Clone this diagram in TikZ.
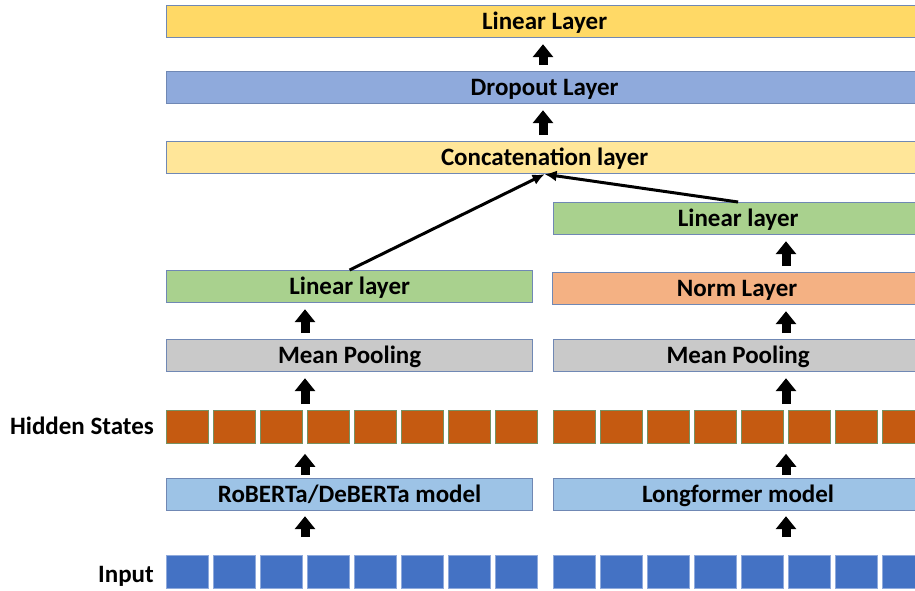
\documentclass[tikz,border=0pt]{standalone}
\usepackage{fontspec}
\setmainfont{Carlito}
\usepackage{tikz}
\usetikzlibrary{arrows.meta,positioning,calc}
\definecolor{lyyellow}{RGB}{255,217,102}
\definecolor{lyblue}{RGB}{143,170,220}
\definecolor{lypale}{RGB}{255,230,153}
\definecolor{lygreen}{RGB}{169,209,142}
\definecolor{lyorange}{RGB}{244,177,131}
\definecolor{lygray}{RGB}{201,201,201}
\definecolor{lymodel}{RGB}{157,195,230}
\definecolor{lyhidden}{RGB}{197,90,17}
\definecolor{lyinput}{RGB}{68,114,196}
\definecolor{lyborder}{RGB}{112,136,180}
\tikzset{
  layer/.style={rectangle, draw=lyborder, line width=1.2pt, anchor=north west, inner sep=0pt, minimum height=32pt, text height=18pt, text depth=2pt, font=\fontsize{25}{28}\selectfont\bfseries},
  fullbox/.style={layer, minimum width=756pt},
  leftbox/.style={layer, minimum width=366pt},
  rightbox/.style={layer, minimum width=369pt},
  hidcell/.style={rectangle, anchor=north west, inner sep=0pt, minimum width=42pt, minimum height=33pt, fill=lyhidden, draw=lygreen!70!black, line width=0.8pt},
  incell/.style={rectangle, anchor=north west, inner sep=0pt, minimum width=42pt, minimum height=33pt, fill=lyinput, draw=lyinput!60!white, line width=0.8pt},
  sidelabel/.style={anchor=east, inner sep=0pt, font=\fontsize{25}{28}\selectfont\bfseries},
  blockarrow/.style={-{Triangle[width=20pt,length=13pt]}, line width=9pt, shorten <=6pt, shorten >=6pt},
  joinarrow/.style={-{Latex[length=12pt,width=11pt]}, line width=3pt}
}
\begin{document}
\begin{tikzpicture}[x=1pt,y=-1pt]
\useasboundingbox (0,0) rectangle (915,590);
\clip (0,0) rectangle (915,590);
% top stack
\node[fullbox, fill=lyyellow] (out) at (166,5) {Linear Layer};
\node[fullbox, fill=lyblue] (drop) at (166,71) {Dropout Layer};
\node[fullbox, fill=lypale] (concat) at (166,141) {Concatenation layer};
% left branch
\node[leftbox, fill=lygreen] (linL) at (166,270) {Linear layer};
\node[leftbox, fill=lygray] (meanL) at (166,339) {Mean Pooling};
\node[leftbox, fill=lymodel] (modelL) at (166,478) {RoBERTa/DeBERTa model};
% right branch
\node[rightbox, fill=lygreen] (linR) at (553,202) {Linear layer};
\node[rightbox, fill=lyorange] (normR) at (552,272) {Norm Layer};
\node[rightbox, fill=lygray] (meanR) at (553,339) {Mean Pooling};
\node[rightbox, fill=lymodel] (modelR) at (553,478) {Longformer model};
% token cells
\foreach \i in {1,...,8} {
  \node[hidcell] (hidL\i) at ({166+47*(\i-1)},410) {};
  \node[hidcell] (hidR\i) at ({553+47*(\i-1)},410) {};
  \node[incell] (inL\i) at ({166+47*(\i-1)},555) {};
  \node[incell] (inR\i) at ({553+47*(\i-1)},555) {};
}
\node[sidelabel] (hidlab) at (154,426) {Hidden States};
\node[sidelabel] (inlab) at (154,576) {Input};
% arrow columns
\coordinate (colT) at (543,0);
\coordinate (colL) at (305,0);
\coordinate (colR) at (786,0);
\draw[blockarrow] (drop.north -| colT) -- (out.south -| colT);
\draw[blockarrow] (concat.north -| colT) -- (drop.south -| colT);
\draw[blockarrow, shorten <=18pt, shorten >=5pt] (inL1.north -| colL) -- (modelL.south -| colL);
\draw[blockarrow, shorten <=3pt, shorten >=10pt] (modelL.north -| colL) -- (hidL1.south -| colL);
\draw[blockarrow] (hidL1.north -| colL) -- (meanL.south -| colL);
\draw[blockarrow] (meanL.north -| colL) -- (linL.south -| colL);
\draw[blockarrow, shorten <=18pt, shorten >=5pt] (inR1.north -| colR) -- (modelR.south -| colR);
\draw[blockarrow, shorten <=3pt, shorten >=10pt] (modelR.north -| colR) -- (hidR1.south -| colR);
\draw[blockarrow] (hidR1.north -| colR) -- (meanR.south -| colR);
\draw[blockarrow] (meanR.north -| colR) -- (normR.south -| colR);
\draw[blockarrow] (normR.north -| colR) -- (linR.south -| colR);
\draw[joinarrow] (linL.north) -- (concat.south);
\draw[joinarrow] (linR.north) -- (concat.south);
\end{tikzpicture}
\end{document}
